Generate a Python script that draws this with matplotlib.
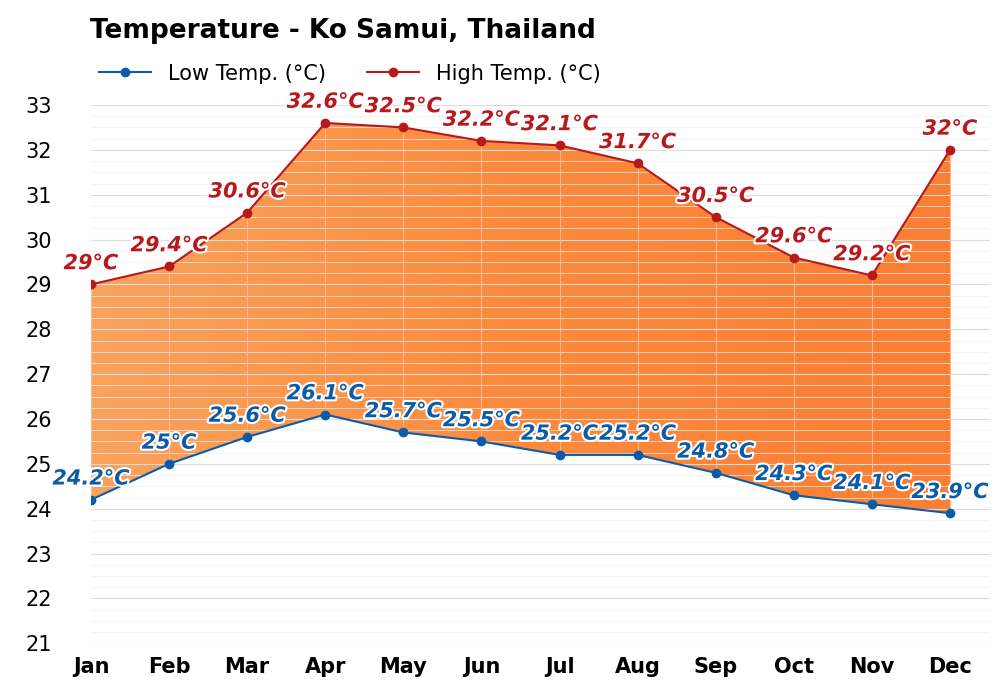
import matplotlib.pyplot as plt
import matplotlib.patheffects as pe
import numpy as np

months = ["Jan", "Feb", "Mar", "Apr", "May", "Jun", "Jul", "Aug", "Sep", "Oct", "Nov", "Dec"]
high = [29, 29.4, 30.6, 32.6, 32.5, 32.2, 32.1, 31.7, 30.5, 29.6, 29.2, 32]
low = [24.2, 25, 25.6, 26.1, 25.7, 25.5, 25.2, 25.2, 24.8, 24.3, 24.1, 23.9]
yticks = list(range(21, 34))

high_c = "#b8191c"
low_c = "#0b5ca8"

fig = plt.figure(figsize=(10, 7), dpi=100)
ax = fig.add_axes([0.091, 0.081, 0.899, 0.769])
x = np.arange(len(months))

# gradient fill between lines
grad = np.linspace(0, 1, 256).reshape(1, -1)
from matplotlib.colors import LinearSegmentedColormap
cmap = LinearSegmentedColormap.from_list("o", ["#f9a35e", "#fc8a3c", "#fa7e34"])
im = ax.imshow(grad, cmap=cmap, aspect="auto", extent=[0, 11, 21, 33], zorder=1)
poly = ax.fill_between(x, low, high, color="none", zorder=1)
im.set_clip_path(poly.get_paths()[0], transform=ax.transData)

ax.vlines(x, low, high, color="#ffb98a", lw=0.8, zorder=2)

ax.plot(x, high, color=high_c, lw=1.5, marker="o", ms=6, zorder=3, label="High Temp. (°C)")
ax.plot(x, low, color=low_c, lw=1.5, marker="o", ms=6, zorder=3, label="Low Temp. (°C)")

stroke = [pe.withStroke(linewidth=3, foreground="white")]
def fmt(v):
    return f"{v:g}°C"
for i in x:
    ax.text(i, high[i] + 0.25, fmt(high[i]), color=high_c, fontsize=15, fontweight="bold",
            fontstyle="italic", ha="center", va="bottom", path_effects=stroke, zorder=4)
    ax.text(i, low[i] + 0.25, fmt(low[i]), color=low_c, fontsize=15, fontweight="bold",
            fontstyle="italic", ha="center", va="bottom", path_effects=stroke, zorder=4)

ax.set_xlim(0, 11 * 899 / 859)
ax.set_ylim(21, 33)
ax.set_yticks(yticks)
ax.set_yticks(np.arange(21, 33, 0.25), minor=True)
ax.set_xticks(x)
ax.set_xticklabels(months, fontweight="bold", fontsize=15)
ax.tick_params(axis="y", labelsize=15, length=0, pad=28, which="both")
ax.tick_params(axis="x", length=0, pad=10)
for t in ax.get_yticklabels():
    t.set_horizontalalignment("right")
ax.grid(axis="y", which="major", color="#dddddd", lw=0.8, zorder=0)
ax.grid(axis="y", which="minor", color="#eeeeee", lw=0.5, zorder=0)
for s in ax.spines.values():
    s.set_visible(False)

fig.text(0.09, 0.955, "Temperature - Ko Samui, Thailand", fontsize=19, fontweight="bold", va="center")
h, l = ax.get_legend_handles_labels()
fig.legend(h[::-1], l[::-1], loc="center left", bbox_to_anchor=(0.08, 0.895), ncol=2,
           frameon=False, fontsize=15, handlelength=2.5, columnspacing=2.0)

fig.savefig("out.png")
